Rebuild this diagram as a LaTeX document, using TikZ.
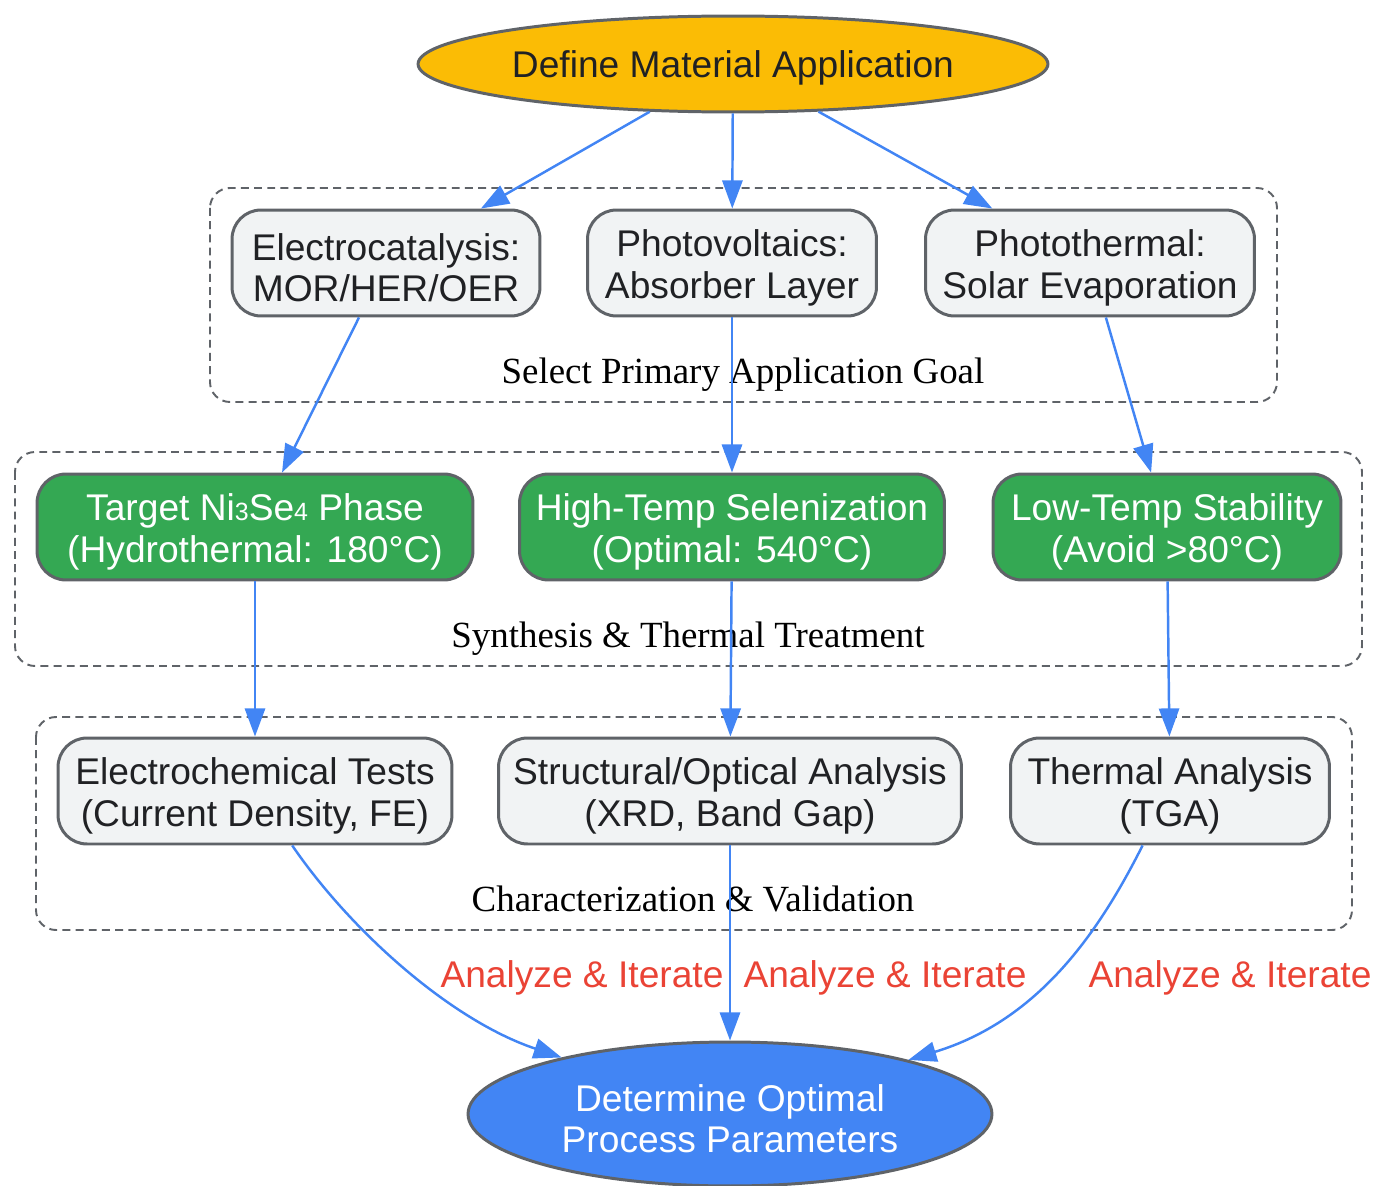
\documentclass[tikz,border=0pt]{standalone}
\usepackage{fontspec}
\setmainfont{Liberation Sans}
\newfontfamily\clusterfont{Liberation Serif}
\usetikzlibrary{shapes.geometric,arrows.meta}
\definecolor{gyellow}{HTML}{FBBC05}
\definecolor{ggreen}{HTML}{34A853}
\definecolor{gblue}{HTML}{4285F4}
\definecolor{glight}{HTML}{F1F3F4}
\definecolor{gborder}{HTML}{5F6368}
\definecolor{gtext}{HTML}{202124}
\definecolor{gred}{HTML}{EA4335}
\newcommand{\smalldigit}[1]{{\fontsize{14.2}{14}\selectfont #1}}
\newcommand{\twolines}[2]{\rule{0pt}{20.6pt}#1\\#2}
\begin{document}
\begin{tikzpicture}[x=0.02cm,y=-0.02cm,
    every node/.style={font=\fontsize{21.15}{23.8}\selectfont},
    box/.style={draw=gborder,line width=1.7pt,rounded corners=0.58cm,align=center,inner sep=0pt,minimum height=2.12cm},
    stepgray/.style={box,fill=glight,text=gtext},
    stepgreen/.style={box,fill=ggreen,text=white},
    oval/.style={ellipse,draw=gborder,line width=1.7pt,align=center,inner sep=0pt},
    cluster/.style={draw=gborder,line width=1.1pt,dash pattern=on 4.5pt off 3pt,rounded corners=0.4cm},
    clusterlabel/.style={font=\clusterfont\fontsize{21}{24}\selectfont,text=black,anchor=base},
    flow/.style={draw=gblue,line width=1.4pt,-{Triangle[length=16pt,width=11.5pt]}},
    iterlabel/.style={text=gred}]
  \useasboundingbox (0,0) rectangle (1377,1186);
  \draw[cluster] (210,188) rectangle (1277,402);
  \node[clusterlabel] (goallabel) at (743,383) {Select Primary Application Goal};
  \draw[cluster] (15,452) rectangle (1362,666);
  \node[clusterlabel] (synthlabel) at (688,647) {Synthesis \& Thermal Treatment};
  \draw[cluster] (36,717) rectangle (1352,930);
  \node[clusterlabel] (charlabel) at (693,911) {Characterization \& Validation};
  \node[oval,fill=gyellow,text=gtext,minimum width=12.6cm,minimum height=1.92cm] (define) at (733,64) {\rule{0pt}{19.8pt}Define Material Application};
  \node[stepgray,minimum width=6.16cm] (electro) at (386,263) {\twolines{Electrocatalysis:}{MOR/HER/OER}};
  \node[stepgray,minimum width=5.78cm] (photovolt) at (732,263) {\twolines{Photovoltaics:}{Absorber Layer}};
  \node[stepgray,minimum width=6.58cm] (photothermal) at (1090,263) {\twolines{Photothermal:}{Solar Evaporation}};
  \node[stepgreen,minimum width=8.72cm] (nise) at (255,527) {\twolines{Target Ni\smalldigit{3}Se\smalldigit{4} Phase}{(Hydrothermal: 180°C)}};
  \node[stepgreen,minimum width=8.5cm] (hightemp) at (732,527) {\twolines{High-Temp Selenization}{(Optimal: 540°C)}};
  \node[stepgreen,minimum width=6.96cm] (lowtemp) at (1167,527) {\twolines{Low-Temp Stability}{(Avoid >80°C)}};
  \node[stepgray,minimum width=7.88cm] (electrochem) at (255,791) {\twolines{Electrochemical Tests}{(Current Density, FE)}};
  \node[stepgray,minimum width=9.26cm] (structural) at (730,791) {\twolines{Structural/Optical Analysis}{(XRD, Band Gap)}};
  \node[stepgray,minimum width=6.38cm] (thermal) at (1170,791) {\twolines{Thermal Analysis}{(TGA)}};
  \node[oval,fill=gblue,text=white,minimum width=10.48cm,minimum height=2.88cm] (optimal) at (730,1114) {\twolines{Determine Optimal}{Process Parameters}};
  \node[iterlabel] (iterleft) at (582,978) {Analyze \& Iterate};
  \node[iterlabel] (itermid) at (885,978) {Analyze \& Iterate};
  \node[iterlabel] (iterright) at (1230,978) {Analyze \& Iterate};
  \begin{scope}[flow]
    \draw (define) -- (electro);
    \draw (define) -- (photovolt);
    \draw (define) -- (photothermal);
    \draw (electro) -- (nise);
    \draw (photovolt) -- (hightemp);
    \draw (photothermal) -- (lowtemp);
    \draw (nise) -- (electrochem);
    \draw (hightemp) -- (structural);
    \draw (lowtemp) -- (thermal);
    \draw (electrochem) .. controls (350,930) and (450,1020) .. (optimal);
    \draw (structural) -- (optimal);
    \draw (thermal) .. controls (1100,930) and (1040,1020) .. (optimal);
  \end{scope}
\end{tikzpicture}
\end{document}
